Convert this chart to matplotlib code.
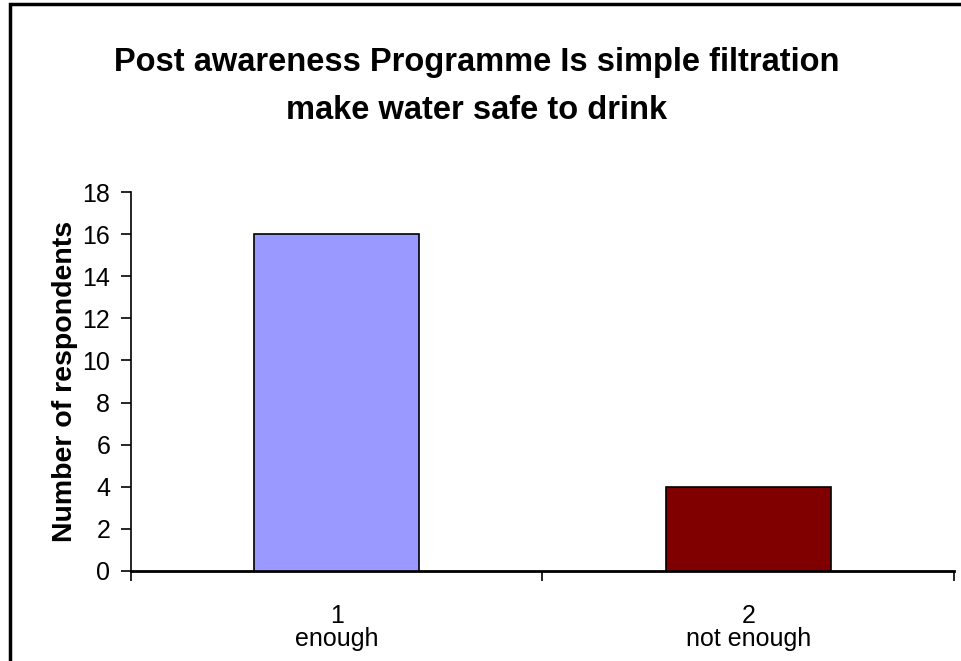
import matplotlib.pyplot as plt
from matplotlib.patches import Rectangle

categories = ['1\nenough', '2\nnot enough']
respondents = [16, 4]
bar_colors = ['#9999FF', '#800000']

plt.rcParams['font.family'] = ['Liberation Sans', 'DejaVu Sans']

fig = plt.figure(figsize=(9.61, 6.61), dpi=100)
ax = fig.add_axes([0.1363, 0.1362, 0.8564, 0.5733])

positions = [i + 0.5 for i in range(len(categories))]
ax.bar(positions, respondents, width=0.4, color=bar_colors, edgecolor='black', linewidth=1.2, zorder=3)

ax.set_xlim(0, len(categories))
ax.set_ylim(0, 18)
ax.set_yticks(range(0, 19, 2))
ax.set_xticks(range(0, len(categories) + 1))
ax.set_xticklabels([])
ax.set_xticks(positions, minor=True)
ax.set_xticklabels(categories, minor=True, fontsize=18, linespacing=0.95)
ax.tick_params(axis='x', which='minor', length=0, pad=24)
ax.tick_params(axis='x', which='major', direction='out', length=7, width=1.2)
ax.tick_params(axis='y', direction='out', length=7, width=1.2, labelsize=18, pad=8)

for side in ['top', 'right']:
    ax.spines[side].set_visible(False)
ax.spines['left'].set_linewidth(1.2)
ax.spines['bottom'].set_linewidth(2)

ax.set_ylabel('Number of respondents', fontsize=20.5, fontweight='bold', labelpad=3)

fig.text(0.496, 0.869, 'Post awareness Programme Is simple filtration\nmake water safe to drink',
         ha='center', va='center', fontsize=23.5, fontweight='bold', linespacing=1.7)

# chart area frame, cut at right and bottom like the original
fig.patches.append(Rectangle((10 / 961, -0.1), 1.0, 1.1 - 4 / 661, transform=fig.transFigure,
                             fill=False, edgecolor='black', linewidth=2.5))

fig.savefig('out.png', dpi=100)
